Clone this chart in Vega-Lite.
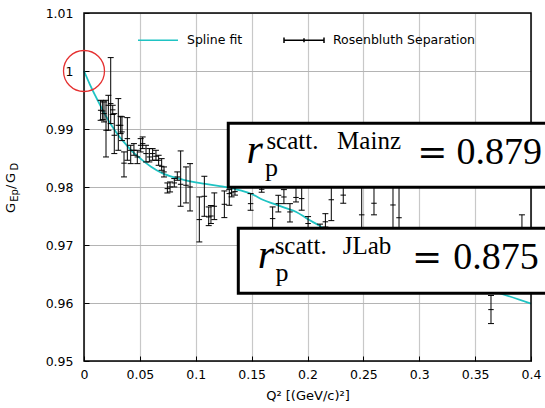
{
  "$schema": "https://vega.github.io/schema/vega-lite/v6.json",
  "width": 447,
  "height": 348,
  "autosize": {"type": "none"},
  "padding": {"left": 84, "top": 13, "right": 14, "bottom": 47},
  "background": "white",
  "config": {
    "font": "DejaVu Sans",
    "view": {"stroke": null},
    "axis": {
      "labelFont": "DejaVu Sans",
      "labelFontSize": 12.5,
      "labelColor": "black",
      "domain": false,
      "ticks": true,
      "tickColor": "black",
      "tickSize": -5,
      "gridColor": "#c8c8c8",
      "gridWidth": 1.2,
      "titleFont": "DejaVu Sans",
      "titleFontWeight": "normal",
      "titleColor": "black"
    }
  },
  "datasets": {
    "spline": [
      {"q": 0, "v": 1.0}, {"q": 0.005, "v": 0.9978}, {"q": 0.01, "v": 0.9958}, {"q": 0.015, "v": 0.9939},
      {"q": 0.02, "v": 0.9921}, {"q": 0.025, "v": 0.9905}, {"q": 0.03, "v": 0.9891}, {"q": 0.035, "v": 0.9879},
      {"q": 0.04, "v": 0.9868}, {"q": 0.045, "v": 0.9858}, {"q": 0.05, "v": 0.985}, {"q": 0.055, "v": 0.9842},
      {"q": 0.06, "v": 0.9835}, {"q": 0.065, "v": 0.9829}, {"q": 0.07, "v": 0.9824}, {"q": 0.08, "v": 0.9817},
      {"q": 0.09, "v": 0.9812}, {"q": 0.1, "v": 0.9808}, {"q": 0.11, "v": 0.9805}, {"q": 0.12, "v": 0.9802},
      {"q": 0.13, "v": 0.9799}, {"q": 0.14, "v": 0.9794}, {"q": 0.15, "v": 0.9788}, {"q": 0.16, "v": 0.9778},
      {"q": 0.17, "v": 0.9771}, {"q": 0.18, "v": 0.9764}, {"q": 0.19, "v": 0.9757}, {"q": 0.2, "v": 0.9745},
      {"q": 0.21, "v": 0.9734}, {"q": 0.22, "v": 0.9722}, {"q": 0.23, "v": 0.9712}, {"q": 0.25, "v": 0.9695},
      {"q": 0.28, "v": 0.9673}, {"q": 0.31, "v": 0.9653}, {"q": 0.34, "v": 0.9635}, {"q": 0.37, "v": 0.9618},
      {"q": 0.4, "v": 0.9599}
    ],
    "eb": [
      {"q": 0.0149, "v": 0.99323, "lo": 0.9915, "hi": 0.99495},
      {"q": 0.0167, "v": 0.99311, "lo": 0.99162, "hi": 0.99484},
      {"q": 0.0179, "v": 0.99265, "lo": 0.99122, "hi": 0.99466},
      {"q": 0.0197, "v": 0.98978, "lo": 0.98518, "hi": 0.99495},
      {"q": 0.0218, "v": 0.99409, "lo": 0.98978, "hi": 0.99581},
      {"q": 0.0239, "v": 0.99438, "lo": 0.99093, "hi": 1.00231},
      {"q": 0.0257, "v": 0.9933, "lo": 0.9925, "hi": 0.99409},
      {"q": 0.0271, "v": 0.98892, "lo": 0.98576, "hi": 0.99265},
      {"q": 0.0307, "v": 0.99064, "lo": 0.98633, "hi": 0.99524},
      {"q": 0.0328, "v": 0.99064, "lo": 0.9892, "hi": 0.99219},
      {"q": 0.034, "v": 0.9895, "lo": 0.988, "hi": 0.9921},
      {"q": 0.0358, "v": 0.98411, "lo": 0.98174, "hi": 0.98605},
      {"q": 0.0388, "v": 0.98834, "lo": 0.98461, "hi": 0.99196},
      {"q": 0.0418, "v": 0.98633, "lo": 0.98403, "hi": 0.98719},
      {"q": 0.0447, "v": 0.98633, "lo": 0.98547, "hi": 0.98748},
      {"q": 0.0477, "v": 0.98518, "lo": 0.98403, "hi": 0.98633},
      {"q": 0.0507, "v": 0.98719, "lo": 0.98604, "hi": 0.98834},
      {"q": 0.0525, "v": 0.98748, "lo": 0.98662, "hi": 0.98863},
      {"q": 0.0555, "v": 0.98576, "lo": 0.98432, "hi": 0.98719},
      {"q": 0.0585, "v": 0.98518, "lo": 0.98432, "hi": 0.98662},
      {"q": 0.0614, "v": 0.98576, "lo": 0.98461, "hi": 0.98662},
      {"q": 0.0644, "v": 0.9853, "lo": 0.98461, "hi": 0.98633},
      {"q": 0.0668, "v": 0.98461, "lo": 0.98374, "hi": 0.98547},
      {"q": 0.0695, "v": 0.98357, "lo": 0.98288, "hi": 0.98489},
      {"q": 0.0716, "v": 0.9826, "lo": 0.98173, "hi": 0.98346},
      {"q": 0.0746, "v": 0.97972, "lo": 0.97897, "hi": 0.9807},
      {"q": 0.077, "v": 0.98001, "lo": 0.97915, "hi": 0.98087},
      {"q": 0.0808, "v": 0.9807, "lo": 0.98001, "hi": 0.98145},
      {"q": 0.0835, "v": 0.98173, "lo": 0.98116, "hi": 0.9826},
      {"q": 0.0865, "v": 0.98047, "lo": 0.97668, "hi": 0.98622},
      {"q": 0.0913, "v": 0.9803, "lo": 0.97725, "hi": 0.98346},
      {"q": 0.0949, "v": 0.98001, "lo": 0.97587, "hi": 0.98403},
      {"q": 0.1032, "v": 0.97438, "lo": 0.97053, "hi": 0.97829},
      {"q": 0.1077, "v": 0.9784, "lo": 0.97495, "hi": 0.98185},
      {"q": 0.1116, "v": 0.97484, "lo": 0.97334, "hi": 0.97656},
      {"q": 0.1136, "v": 0.975, "lo": 0.9737, "hi": 0.9768},
      {"q": 0.1166, "v": 0.97668, "lo": 0.97438, "hi": 0.97898},
      {"q": 0.1256, "v": 0.97702, "lo": 0.97472, "hi": 0.97932},
      {"q": 0.13, "v": 0.97886, "lo": 0.97685, "hi": 0.97955},
      {"q": 0.1321, "v": 0.979, "lo": 0.9783, "hi": 0.9805},
      {"q": 0.1351, "v": 0.9792, "lo": 0.9786, "hi": 0.981},
      {"q": 0.1491, "v": 0.97713, "lo": 0.97599, "hi": 0.97886},
      {"q": 0.159, "v": 0.9796, "lo": 0.9791, "hi": 0.9815},
      {"q": 0.1688, "v": 0.97455, "lo": 0.97282, "hi": 0.97656},
      {"q": 0.1739, "v": 0.97713, "lo": 0.9757, "hi": 0.97857},
      {"q": 0.1789, "v": 0.97828, "lo": 0.97713, "hi": 0.97955},
      {"q": 0.1843, "v": 0.9757, "lo": 0.97397, "hi": 0.97713},
      {"q": 0.1897, "v": 0.9782, "lo": 0.97742, "hi": 0.981},
      {"q": 0.1948, "v": 0.978, "lo": 0.976, "hi": 0.981},
      {"q": 0.2005, "v": 0.9737, "lo": 0.9722, "hi": 0.9749},
      {"q": 0.2112, "v": 0.9725, "lo": 0.9715, "hi": 0.9736},
      {"q": 0.216, "v": 0.974, "lo": 0.9731, "hi": 0.9754},
      {"q": 0.2213, "v": 0.9778, "lo": 0.9742, "hi": 0.9805},
      {"q": 0.232, "v": 0.9786, "lo": 0.9772, "hi": 0.9805},
      {"q": 0.2485, "v": 0.9752, "lo": 0.9728, "hi": 0.98},
      {"q": 0.2595, "v": 0.9772, "lo": 0.9752, "hi": 0.9802},
      {"q": 0.2765, "v": 0.9769, "lo": 0.9728, "hi": 0.981},
      {"q": 0.2819, "v": 0.9747, "lo": 0.9725, "hi": 0.98},
      {"q": 0.3642, "v": 0.95886, "lo": 0.95645, "hi": 0.9613},
      {"q": 0.3919, "v": 0.971, "lo": 0.967, "hi": 0.9752}
    ]
  },
  "encoding": {
    "x": {"type": "quantitative", "scale": {"domain": [0, 0.4], "nice": false, "zero": false},
      "axis": {"values": [0, 0.05, 0.1, 0.15, 0.2, 0.25, 0.3, 0.35, 0.4], "format": ".2~f", "labelFlush": false, "labelPadding": 12, "title": "Q² [(GeV/c)²]", "titleFontSize": 13, "titlePadding": 9}},
    "y": {"type": "quantitative", "scale": {"domain": [0.95, 1.01], "nice": false, "zero": false},
      "axis": {"values": [0.95, 0.96, 0.97, 0.98, 0.99, 1.0, 1.01], "format": ".2~f", "labelPadding": 16, "title": null, "gridColor": "#b4b4b4", "gridWidth": 1}}
  },
  "layer": [
    {
      "data": {"name": "spline"},
      "mark": {"type": "line", "strokeWidth": 1.8, "interpolate": "monotone"},
      "encoding": {
        "x": {"field": "q", "type": "quantitative"},
        "y": {"field": "v", "type": "quantitative"},
        "color": {"datum": "Spline fit", "type": "nominal",
          "scale": {"domain": ["Spline fit", "Rosenbluth Separation"], "range": ["#1fc3c3", "black"]},
          "legend": {
            "orient": "none", "legendX": 53, "legendY": 6, "direction": "horizontal", "title": null,
            "padding": 0, "symbolSize": 1600, "symbolStrokeWidth": 1.5, "labelOffset": 8, "columnPadding": 38,
            "labelFont": "DejaVu Sans", "labelFontSize": 12.5, "labelColor": "black",
            "encode": {"symbols": {"update": {
              "shape": {"signal": "(datum.value === 'Spline fit' ? 'M-1,0H1' : 'M-1,0H1M-1,-0.14V0.14M1,-0.14V0.14M0,-0.1V0.1')"},
              "stroke": {"signal": "(datum.value === 'Spline fit' ? '#1fc3c3' : 'black')"},
              "fill": {"value": "transparent"}
            }}}
          }}
      }
    },
    {
      "data": {"name": "eb"},
      "mark": {"type": "rule", "strokeWidth": 1},
      "encoding": {
        "x": {"field": "q", "type": "quantitative"},
        "y": {"field": "lo", "type": "quantitative"},
        "y2": {"field": "hi"},
        "color": {"datum": "Rosenbluth Separation", "type": "nominal"}
      }
    },
    {
      "data": {"name": "eb"},
      "mark": {"type": "point", "shape": "M-1,0H1", "size": 36, "filled": false, "color": "black", "strokeWidth": 1, "opacity": 1},
      "encoding": {"x": {"field": "q", "type": "quantitative"}, "y": {"field": "lo", "type": "quantitative"}}
    },
    {
      "data": {"name": "eb"},
      "mark": {"type": "point", "shape": "M-1,0H1", "size": 36, "filled": false, "color": "black", "strokeWidth": 1, "opacity": 1},
      "encoding": {"x": {"field": "q", "type": "quantitative"}, "y": {"field": "hi", "type": "quantitative"}}
    },
    {
      "data": {"name": "eb"},
      "mark": {"type": "point", "shape": "M-1,0H1", "size": 30, "filled": false, "color": "black", "strokeWidth": 1, "opacity": 1},
      "encoding": {"x": {"field": "q", "type": "quantitative"}, "y": {"field": "v", "type": "quantitative"}}
    },
    {
      "data": {"values": [{}]},
      "mark": {"type": "rect", "fill": null, "stroke": "black", "strokeWidth": 1.5},
      "encoding": {"x": {"datum": 0}, "x2": {"datum": 0.4}, "y": {"datum": 0.95}, "y2": {"datum": 1.01}}
    },
    {
      "data": {"values": [{}]},
      "mark": {"type": "rect", "fill": "white", "stroke": "black", "strokeWidth": 3},
      "encoding": {"x": {"datum": 0.1291}, "x2": {"datum": 0.43}, "y": {"datum": 0.990983}, "y2": {"datum": 0.979948}}
    },
    {
      "data": {"values": [{}]},
      "mark": {"type": "rect", "fill": "white", "stroke": "black", "strokeWidth": 3},
      "encoding": {"x": {"datum": 0.13808}, "x2": {"datum": 0.43}, "y": {"datum": 0.972879}, "y2": {"datum": 0.961672}}
    },
    {"data": {"values": [{}]}, "mark": {"type": "text", "text": "r", "font": "Liberation Serif", "fontStyle": "italic", "fontSize": 42, "align": "left", "baseline": "alphabetic", "color": "black"},
      "encoding": {"x": {"datum": 0.1455}, "y": {"datum": 0.984086}}},
    {"data": {"values": [{}]}, "mark": {"type": "text", "text": "scatt.", "font": "Liberation Serif", "fontSize": 25, "align": "left", "baseline": "alphabetic", "color": "black"},
      "encoding": {"x": {"datum": 0.1632}, "y": {"datum": 0.9865}}},
    {"data": {"values": [{}]}, "mark": {"type": "text", "text": "Mainz", "font": "Liberation Serif", "fontSize": 25, "align": "left", "baseline": "alphabetic", "color": "black"},
      "encoding": {"x": {"datum": 0.2265}, "y": {"datum": 0.9865}}},
    {"data": {"values": [{}]}, "mark": {"type": "text", "text": "p", "font": "Liberation Serif", "fontSize": 26, "align": "left", "baseline": "alphabetic", "color": "black"},
      "encoding": {"x": {"datum": 0.16197}, "y": {"datum": 0.981948}}},
    {"data": {"values": [{}]}, "mark": {"type": "text", "text": "=", "font": "DejaVu Serif", "fontSize": 36, "align": "left", "baseline": "alphabetic", "color": "black"},
      "encoding": {"x": {"datum": 0.2983}, "y": {"datum": 0.983966}}},
    {"data": {"values": [{}]}, "mark": {"type": "text", "text": "0.879", "font": "Liberation Serif", "fontSize": 38, "align": "left", "baseline": "alphabetic", "color": "black"},
      "encoding": {"x": {"datum": 0.33342}, "y": {"datum": 0.983966}}},
    {"data": {"values": [{}]}, "mark": {"type": "text", "text": "r", "font": "Liberation Serif", "fontStyle": "italic", "fontSize": 42, "align": "left", "baseline": "alphabetic", "color": "black"},
      "encoding": {"x": {"datum": 0.15558}, "y": {"datum": 0.965983}}},
    {"data": {"values": [{}]}, "mark": {"type": "text", "text": "scatt.", "font": "Liberation Serif", "fontSize": 25, "align": "left", "baseline": "alphabetic", "color": "black"},
      "encoding": {"x": {"datum": 0.1706}, "y": {"datum": 0.968397}}},
    {"data": {"values": [{}]}, "mark": {"type": "text", "text": "JLab", "font": "Liberation Serif", "fontSize": 25, "align": "left", "baseline": "alphabetic", "color": "black"},
      "encoding": {"x": {"datum": 0.2315}, "y": {"datum": 0.968397}}},
    {"data": {"values": [{}]}, "mark": {"type": "text", "text": "p", "font": "Liberation Serif", "fontSize": 26, "align": "left", "baseline": "alphabetic", "color": "black"},
      "encoding": {"x": {"datum": 0.17136}, "y": {"datum": 0.963845}}},
    {"data": {"values": [{}]}, "mark": {"type": "text", "text": "=", "font": "DejaVu Serif", "fontSize": 36, "align": "left", "baseline": "alphabetic", "color": "black"},
      "encoding": {"x": {"datum": 0.29351}, "y": {"datum": 0.965862}}},
    {"data": {"values": [{}]}, "mark": {"type": "text", "text": "0.875", "font": "Liberation Serif", "fontSize": 38, "align": "left", "baseline": "alphabetic", "color": "black"},
      "encoding": {"x": {"datum": 0.33047}, "y": {"datum": 0.965862}}},
    {"data": {"values": [{}]}, "mark": {"type": "point", "shape": "circle", "size": 1681, "filled": false, "color": "#e53030", "strokeWidth": 1.3, "opacity": 1},
      "encoding": {"x": {"datum": 0}, "y": {"datum": 1.0}}},
    {"data": {"values": [{}]}, "mark": {"type": "text", "text": "G", "angle": 270, "fontSize": 13, "align": "left", "baseline": "alphabetic", "color": "black"},
      "encoding": {"x": {"datum": -0.06174}, "y": {"datum": 0.975517}}},
    {"data": {"values": [{}]}, "mark": {"type": "text", "text": "Ep", "angle": 270, "fontSize": 10, "dy": 2.5, "align": "left", "baseline": "alphabetic", "color": "black"},
      "encoding": {"x": {"datum": -0.06174}, "y": {"datum": 0.977466}}},
    {"data": {"values": [{}]}, "mark": {"type": "text", "text": "/", "angle": 270, "fontSize": 13, "align": "left", "baseline": "alphabetic", "color": "black"},
      "encoding": {"x": {"datum": -0.06174}, "y": {"datum": 0.979655}}},
    {"data": {"values": [{}]}, "mark": {"type": "text", "text": "G", "angle": 270, "fontSize": 13, "align": "left", "baseline": "alphabetic", "color": "black"},
      "encoding": {"x": {"datum": -0.06174}, "y": {"datum": 0.98069}}},
    {"data": {"values": [{}]}, "mark": {"type": "text", "text": "D", "angle": 270, "fontSize": 10, "dy": 2.5, "align": "left", "baseline": "alphabetic", "color": "black"},
      "encoding": {"x": {"datum": -0.06174}, "y": {"datum": 0.982845}}}
  ]
}
